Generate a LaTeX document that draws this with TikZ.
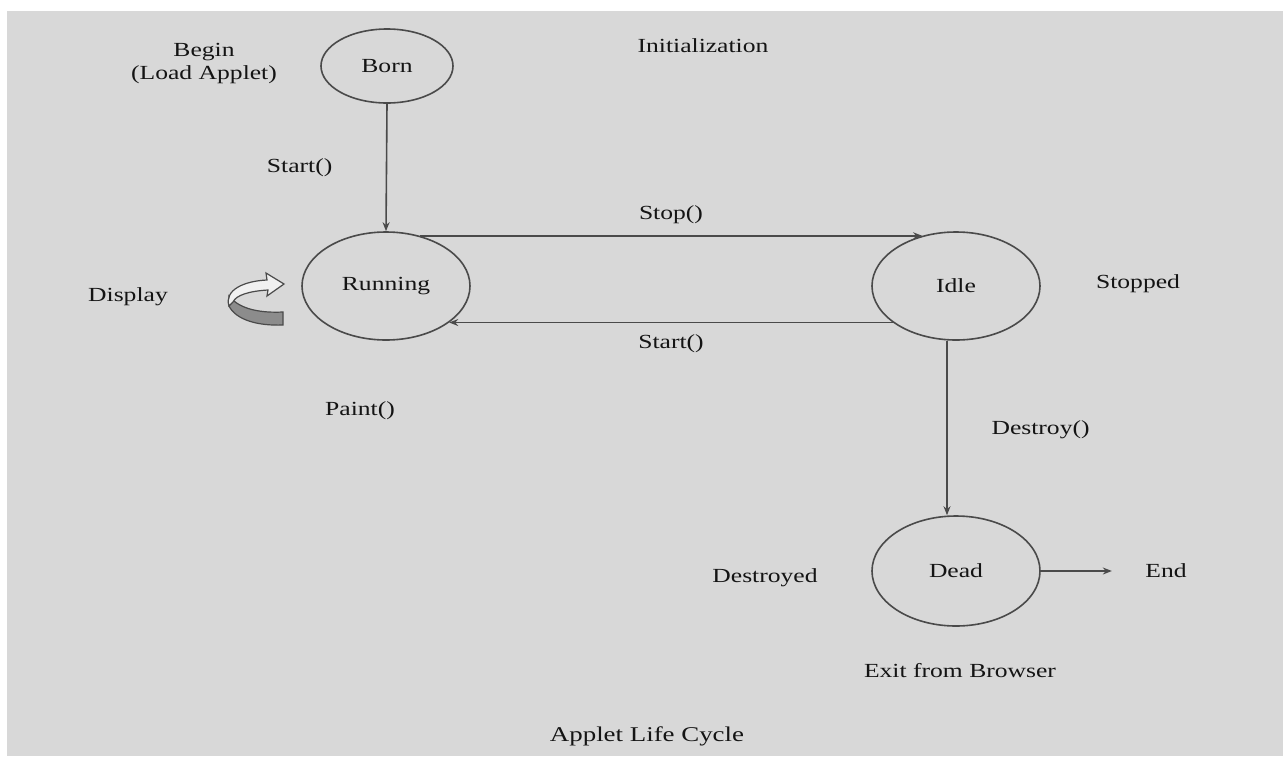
\documentclass[tikz,border=0pt]{standalone}
\usepackage{fontspec}
\setmainfont[FakeStretch=1.28]{Liberation Serif}
\usetikzlibrary{shapes.geometric,arrows.meta}
\definecolor{bggray}{HTML}{D8D8D8}
\definecolor{inkgray}{HTML}{4A4A4A}
\definecolor{ribbongray}{HTML}{8C8C8C}
\begin{document}
\begin{tikzpicture}[x=1pt,y=-1pt,
    >={Stealth[length=9pt,width=7pt]},
    every node/.style={font=\fontsize{20}{23}\selectfont,text=black!92}]

      \useasboundingbox (0,0) rectangle (1283,756);
      \fill[white] (0,0) rectangle (1283,756);
      \fill[bggray] (7,11) rectangle (1283,756);

      \begin{scope}[every node/.append style={ellipse,draw=inkgray,line width=1.6pt,inner sep=0pt}]
        \node[minimum width=132pt,minimum height=74pt]  (born)    at (387,66)  {Born};
        \node[minimum width=168pt,minimum height=108pt] (running) at (386,286) {Running};
        \node[minimum width=168pt,minimum height=108pt] (idle)    at (956,286) {Idle};
        \node[minimum width=168pt,minimum height=110pt] (dead)    at (956,571) {Dead};
      \end{scope}

      \node[align=center] (begin)   at (204,64)  {Begin\\(Load Applet)};
      \node (init)    at (703,46)  {Initialization};
      \node (display) at (128,297) {Display};
      \node (paint)   at (360,411) {Paint()};
      \node (stopped) at (1138,284) {Stopped};
      \node (destroyed) at (765,578) {Destroyed};
      \node (end)     at (1166,571) {End};
      \node (exit)    at (960,671) {Exit from Browser};
      \node[font=\fontsize{21}{25}\selectfont] (title) at (647,736) {Applet Life Cycle};

      \begin{scope}[every node/.append style={fill=none}]
        \begin{scope}[every edge/.style={draw=inkgray,line width=1.6pt}]
          \path (born.south)  edge[->] node[left=50pt] {Start()} (running.north);
          \path (running.56)  edge[->] node[above=8pt] {Stop()} (idle.124);
          \path (idle.210)    edge[->] node[below=8pt] {Start()} (running.-30);
          \path ([xshift=-9pt]idle.south) edge[->,line width=2.4pt] node[right=40pt,yshift=-2pt] {Destroy()} ([xshift=-9pt]dead.north);
          \path (dead.east)   edge[->,shorten >=30pt] (end);
        \end{scope}
      \end{scope}

      \filldraw[fill=ribbongray,draw=inkgray,line width=1.2pt]
        (229,296) .. controls (240,310) and (262,313) .. (283,312)
        -- (283,325) .. controls (258,326) and (236,320) .. (229,306) -- cycle;
      \filldraw[fill=white!94!black,draw=inkgray,line width=1.2pt]
        (229,306) .. controls (224,290) and (244,281) .. (267,280)
        -- (266,273) -- (284,284) -- (267,296) -- (268,290)
        .. controls (250,291) and (236,295) .. (233,302) -- cycle;

    \end{tikzpicture}
\end{document}
